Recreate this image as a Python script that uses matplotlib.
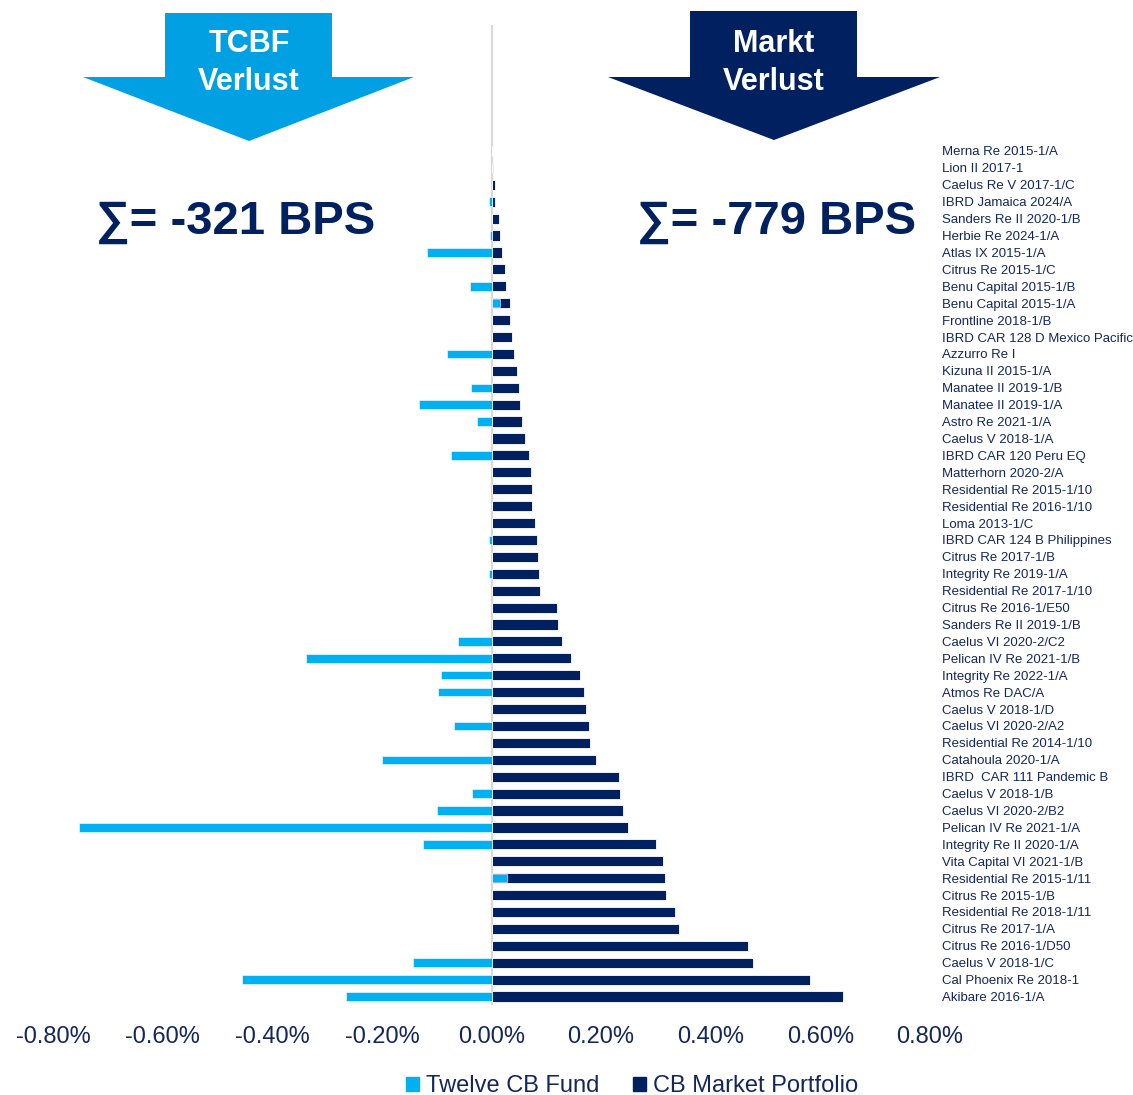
import matplotlib.pyplot as plt
from matplotlib.patches import Polygon, Patch
from matplotlib.ticker import FuncFormatter

plt.rcParams['font.family'] = ['Liberation Sans', 'DejaVu Sans']

NAVY = '#002060'
LIGHT = '#00B0F0'
ARROW_LIGHT = '#00A0E3'
TEXT = '#14275c'

bonds = [
    "Merna Re 2015-1/A", "Lion II 2017-1", "Caelus Re V 2017-1/C", "IBRD Jamaica 2024/A",
    "Sanders Re II 2020-1/B", "Herbie Re 2024-1/A", "Atlas IX 2015-1/A", "Citrus Re 2015-1/C",
    "Benu Capital 2015-1/B", "Benu Capital 2015-1/A", "Frontline 2018-1/B",
    "IBRD CAR 128 D Mexico Pacific", "Azzurro Re I", "Kizuna II 2015-1/A",
    "Manatee II 2019-1/B", "Manatee II 2019-1/A", "Astro Re 2021-1/A", "Caelus V 2018-1/A",
    "IBRD CAR 120 Peru EQ", "Matterhorn 2020-2/A", "Residential Re 2015-1/10",
    "Residential Re 2016-1/10", "Loma 2013-1/C", "IBRD CAR 124 B Philippines",
    "Citrus Re 2017-1/B", "Integrity Re 2019-1/A", "Residential Re 2017-1/10",
    "Citrus Re 2016-1/E50", "Sanders Re II 2019-1/B", "Caelus VI 2020-2/C2",
    "Pelican IV Re 2021-1/B", "Integrity Re 2022-1/A", "Atmos Re DAC/A", "Caelus V 2018-1/D",
    "Caelus VI 2020-2/A2", "Residential Re 2014-1/10", "Catahoula 2020-1/A",
    "IBRD  CAR 111 Pandemic B", "Caelus V 2018-1/B", "Caelus VI 2020-2/B2",
    "Pelican IV Re 2021-1/A", "Integrity Re II 2020-1/A", "Vita Capital VI 2021-1/B",
    "Residential Re 2015-1/11", "Citrus Re 2015-1/B", "Residential Re 2018-1/11",
    "Citrus Re 2017-1/A", "Citrus Re 2016-1/D50", "Caelus V 2018-1/C",
    "Cal Phoenix Re 2018-1", "Akibare 2016-1/A",
]

# losses in percent
market = [
    0.001, 0.002, 0.006, 0.007, 0.013, 0.016, 0.019, 0.024, 0.027, 0.033,
    0.034, 0.038, 0.041, 0.046, 0.050, 0.052, 0.056, 0.061, 0.069, 0.072,
    0.073, 0.074, 0.080, 0.083, 0.084, 0.086, 0.088, 0.120, 0.121, 0.128,
    0.145, 0.162, 0.169, 0.173, 0.178, 0.179, 0.190, 0.233, 0.234, 0.240,
    0.249, 0.301, 0.313, 0.317, 0.319, 0.334, 0.342, 0.468, 0.477, 0.581,
    0.642,
]
fund = [
    0.0, 0.0, 0.0, -0.005, 0.0, -0.003, -0.118, 0.0, -0.039, 0.016,
    0.0, 0.0, -0.081, 0.0, -0.037, -0.133, -0.027, 0.0, -0.074, 0.0,
    0.0, 0.0, 0.0, -0.005, 0.0, -0.005, 0.0, 0.0, 0.0, -0.061,
    -0.338, -0.092, -0.097, 0.0, -0.068, 0.0, -0.200, 0.0, -0.036, -0.100,
    -0.752, -0.125, 0.0, 0.029, 0.0, 0.0, 0.0, 0.0, -0.143, -0.456,
    -0.265,
]
xticks = [-0.8, -0.6, -0.4, -0.2, 0.0, 0.2, 0.4, 0.6, 0.8]

W, H = 1133, 1095
fig = plt.figure(figsize=(W / 100, H / 100), dpi=100)

# axes: x -0.8 -> 53px, 0.8 -> 930px ; top 25px, bottom 1005px
ax = fig.add_axes([53 / W, 1 - 1005 / H, (930 - 53) / W, (1005 - 25) / H])

y = list(range(len(bonds)))
ax.barh(y, market, height=0.6, color=NAVY, edgecolor='white', linewidth=0.6, zorder=2,
        label='CB Market Portfolio')
ax.barh(y, fund, height=0.5, color=LIGHT, edgecolor='white', linewidth=0.4, zorder=3,
        label='Twelve CB Fund')
ax.axvline(0, color='#d9d9d9', lw=1.6, zorder=1)

ax.set_xlim(-0.8, 0.8)
ax.set_ylim(len(bonds) - 0.5, -7.45)
ax.set_xticks(xticks)
ax.xaxis.set_major_formatter(FuncFormatter(lambda v, p: f"{v:.2f}%"))
ax.tick_params(axis='x', length=0, pad=15, labelsize=17, labelcolor=TEXT)

ax.set_yticks(y)
ax.set_yticklabels(bonds)
ax.yaxis.tick_right()
ax.tick_params(axis='y', length=0, pad=8.5, labelsize=9.5, labelcolor=TEXT)
for s in ax.spines.values():
    s.set_visible(False)


def fig_xy(px, py):
    return (px / W, 1 - py / H)


def down_arrow(cx, shaft_l, shaft_r, top, neck, head_l, head_r, tip, color):
    pts = [(shaft_l, top), (shaft_r, top), (shaft_r, neck), (head_r, neck),
           (cx, tip), (head_l, neck), (shaft_l, neck)]
    fig.patches.append(Polygon([fig_xy(*p) for p in pts], closed=True,
                               transform=fig.transFigure, facecolor=color,
                               edgecolor='none'))


down_arrow(249, 165, 332, 13, 77, 83, 414, 141, ARROW_LIGHT)
down_arrow(774, 690, 857, 11, 77, 608, 940, 140, NAVY)

for cx, l1, l2 in [(249, 'TCBF', 'Verlust'), (774, 'Markt', 'Verlust')]:
    fig.text(*fig_xy(cx, 44), l1, color='white', fontsize=22, fontweight='bold',
             ha='center', va='center')
    fig.text(*fig_xy(cx, 82), l2, color='white', fontsize=22, fontweight='bold',
             ha='center', va='center')

fig.text(*fig_xy(236, 222), '∑= -321 BPS', color=NAVY, fontsize=34, fontweight='bold',
         ha='center', va='center')
fig.text(*fig_xy(777, 222), '∑= -779 BPS', color=NAVY, fontsize=34, fontweight='bold',
         ha='center', va='center')

handles = [Patch(color=LIGHT, label='Twelve CB Fund'),
           Patch(color=NAVY, label='CB Market Portfolio')]
leg = fig.legend(handles=handles, loc='center', bbox_to_anchor=fig_xy(632, 1086),
                 ncol=2, frameon=False, fontsize=17, handlelength=0.55,
                 handleheight=0.55, handletextpad=0.3, columnspacing=1.4)
for t in leg.get_texts():
    t.set_color(TEXT)

fig.savefig('out.png', dpi=100)
